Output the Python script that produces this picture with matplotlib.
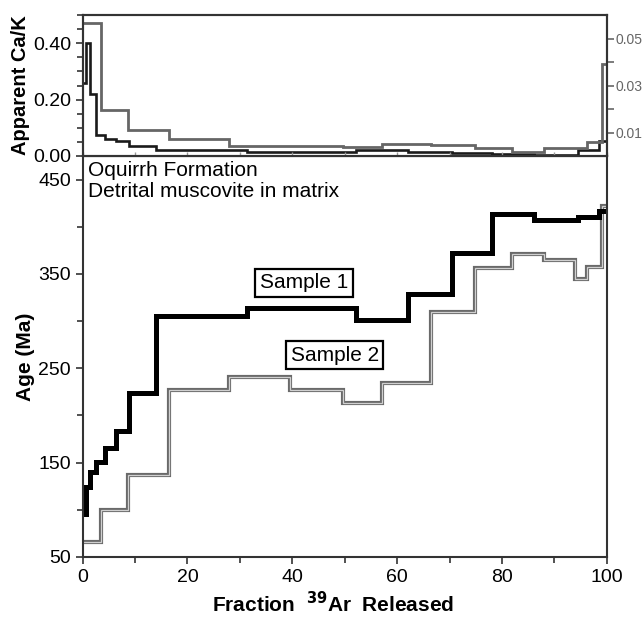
import matplotlib.pyplot as plt
from matplotlib.ticker import MultipleLocator, FixedLocator, FormatStrFormatter

plt.rcParams['font.family'] = ['Liberation Sans', 'DejaVu Sans']

# step edges (% 39Ar released) and plateau values
edges1 = [0, 0.7, 1.3, 2.5, 4.2, 6.3, 8.8, 13.9, 31.3, 52.1, 62.1, 70.4, 78.1, 86.1, 94.6, 98.6, 100]
age1 = [96, 124, 140, 151, 166, 184, 224, 305, 314, 301.5, 329, 372, 413, 407, 410, 417]
cak1 = [0.26, 0.40, 0.22, 0.076, 0.061, 0.052, 0.037, 0.020, 0.013, 0.020, 0.015, 0.011, 0.008, 0.0045, 0.0195, 0.053]

edges2 = [0, 3.5, 8.7, 16.5, 28.0, 39.6, 49.6, 57.1, 66.5, 74.8, 81.9, 88.1, 93.9, 96.3, 99.1, 100]
age2 = [66, 100, 137, 227, 241, 227.5, 213, 234, 310, 356, 371, 365, 345, 357, 422]
cak2 = [0.0567, 0.0197, 0.0109, 0.0073, 0.0042, 0.0042, 0.0038, 0.0052, 0.0047, 0.0034, 0.0019, 0.0035, 0.0035, 0.0058, 0.039]

fig = plt.figure(figsize=(6.44, 6.21), dpi=100)
ax = fig.add_axes([0.1284, 0.1031, 0.8137, 0.6457])
axt = fig.add_axes([0.1284, 0.7488, 0.8137, 0.2270], sharex=ax)
axr = axt.twinx()

# age spectra
ax.stairs(age2, edges2, baseline=None, color='#6a6a6a', lw=3.0)
ax.stairs(age2, edges2, baseline=None, color='#d0d0d0', lw=0.9)
ax.stairs(age1, edges1, baseline=None, color='black', lw=3.6)

ax.set_xlim(0, 100)
ax.set_ylim(50, 475)
ax.xaxis.set_major_locator(MultipleLocator(20))
ax.xaxis.set_minor_locator(MultipleLocator(10))
ax.yaxis.set_major_locator(FixedLocator([50, 150, 250, 350, 450]))
ax.yaxis.set_minor_locator(FixedLocator([100, 200, 300, 400]))
ax.tick_params(which='both', direction='out', labelsize=14, width=1.2, color='#333333')
ax.tick_params(which='major', length=5)
ax.tick_params(which='minor', length=4)
ax.tick_params(axis='x', pad=4)
for s in ax.spines.values():
    s.set_linewidth(1.5)
    s.set_color('#333333')

ax.set_ylabel('Age (Ma)', fontsize=15, fontweight='bold', labelpad=2)
ax.set_xlabel(r'Fraction  $^{\mathbf{39}}$Ar  Released', fontsize=15, fontweight='bold', labelpad=3)
ax.xaxis.set_label_coords(0.478, -0.085)

ax.text(0.011, 0.987, 'Oquirrh Formation\nDetrital muscovite in matrix', transform=ax.transAxes,
        ha='left', va='top', fontsize=15, linespacing=1.15)
box = dict(boxstyle='square,pad=0.22', fc='white', ec='black', lw=1.6)
ax.text(42.2, 340.5, 'Sample 1', ha='center', va='center', fontsize=15, bbox=box)
ax.text(48.1, 263.8, 'Sample 2', ha='center', va='center', fontsize=15, bbox=box)

# Ca/K spectra
axt.stairs(cak1, edges1, baseline=None, color='#1a1a1a', lw=1.9)
axr.stairs(cak2, edges2, baseline=None, color='#666666', lw=2.0)

axt.set_ylim(0, 0.5)
axt.yaxis.set_major_locator(MultipleLocator(0.2))
axt.yaxis.set_minor_locator(MultipleLocator(0.05))
axt.yaxis.set_major_formatter(FormatStrFormatter('%.2f'))
axt.tick_params(axis='y', which='both', direction='out', labelsize=14, width=1.2, color='#333333')
axt.tick_params(axis='y', which='major', length=5)
axt.tick_params(axis='y', which='minor', length=4)
axt.tick_params(axis='x', which='both', direction='in', length=3, width=1.0, color='#999999',
                labelbottom=False)
axt.set_ylabel('Apparent Ca/K', fontsize=14.5, fontweight='bold', labelpad=2)

axr.set_ylim(0, 0.06)
axr.yaxis.set_major_locator(FixedLocator([0.01, 0.03, 0.05]))
axr.yaxis.set_minor_locator(FixedLocator([0.02, 0.04]))
axr.yaxis.set_major_formatter(FormatStrFormatter('%.2f'))
axr.tick_params(axis='y', which='both', direction='out', labelsize=10, width=1.2,
                color='#666666', labelcolor='#666666', pad=1)
axr.tick_params(axis='y', which='major', length=5)
axr.tick_params(axis='y', which='minor', length=5)

for a in (axt, axr):
    for s in a.spines.values():
        s.set_linewidth(1.5)
        s.set_color('#333333')

fig.savefig('out.png', dpi=100)
